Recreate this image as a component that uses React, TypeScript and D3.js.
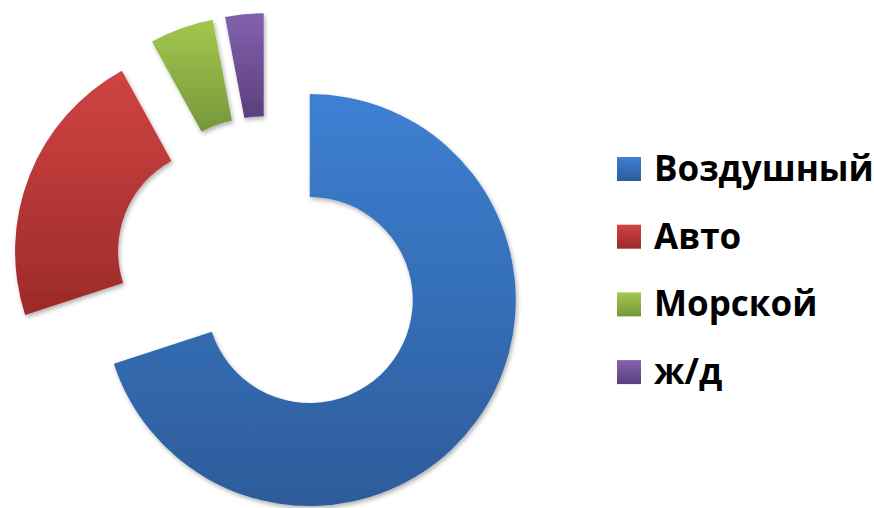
import React, { useEffect, useRef } from 'react';
import * as d3 from 'd3';

// Chart data
const categories = ['Воздушный', 'Авто', 'Морской', 'ж/д'];
const values = [70, 22, 5, 3];
const topColors = ['#3d80d3', '#d04442', '#a2c84e', '#8262ae'];
const bottomColors = ['#2d5c9a', '#9c2a2a', '#76973a', '#5b3f7e'];

const DonutChart = () => {
  const chartRef = useRef(null);

  useEffect(() => {
    if (!chartRef.current) return;
    d3.select(chartRef.current).selectAll('*').remove();

    const width = 874;
    const height = 508;
    const cx = 268.5;
    const cy = 270;
    const outerR = 206;
    const innerR = 103;
    const explode = 51;

    const svg = d3.select(chartRef.current)
      .append('svg')
      .attr('width', width)
      .attr('height', height)
      .style('position', 'absolute')
      .style('left', 0)
      .style('top', 0)
      .style('background-color', 'white');

    const defs = svg.append('defs');

    // soft shadow like the office chart
    const filter = defs.append('filter')
      .attr('id', 'shadow')
      .attr('x', '-10%').attr('y', '-10%')
      .attr('width', '120%').attr('height', '120%');
    filter.append('feDropShadow')
      .attr('dx', 1.5)
      .attr('dy', 2.5)
      .attr('stdDeviation', 2)
      .attr('flood-color', '#000')
      .attr('flood-opacity', 0.3);

    categories.forEach((c, i) => {
      const g = defs.append('linearGradient')
        .attr('id', `grad${i}`)
        .attr('x1', 0).attr('y1', 0)
        .attr('x2', 0).attr('y2', 1);
      g.append('stop').attr('offset', '0%').attr('stop-color', topColors[i]);
      g.append('stop').attr('offset', '100%').attr('stop-color', bottomColors[i]);
    });

    const pie = d3.pie<number>().sort(null).value(d => d);
    const arc = d3.arc<d3.PieArcDatum<number>>()
      .innerRadius(innerR)
      .outerRadius(outerR);

    const arcs = pie(values);

    const chart = svg.append('g')
      .attr('transform', `translate(${cx}, ${cy})`);

    chart.selectAll('path')
      .data(arcs)
      .enter()
      .append('path')
      .attr('d', arc)
      .attr('fill', (d, i) => `url(#grad${i})`)
      .attr('filter', 'url(#shadow)')
      .attr('transform', d => {
        const mid = (d.startAngle + d.endAngle) / 2;
        return `translate(${explode * Math.sin(mid)}, ${-explode * Math.cos(mid)})`;
      });

    // Legend
    const legend = svg.append('g')
      .attr('transform', 'translate(617, 157)');
    const rowStep = 67.7;

    legend.selectAll('rect')
      .data(categories)
      .enter()
      .append('rect')
      .attr('x', 0)
      .attr('y', (d, i) => i * rowStep)
      .attr('width', 24)
      .attr('height', 24)
      .attr('fill', (d, i) => `url(#grad${i})`);

    legend.selectAll('text')
      .data(categories)
      .enter()
      .append('text')
      .attr('x', 37)
      .attr('y', (d, i) => i * rowStep + 24)
      .style('font-family', '"Open Sans", sans-serif')
      .style('font-weight', 'bold')
      .style('font-size', '35px')
      .style('fill', '#000')
      .text(d => d);
  }, []);

  return <div ref={chartRef} style={{ width: 874, height: 508 }} />;
};

export default function App() {
  return <DonutChart />;
}
